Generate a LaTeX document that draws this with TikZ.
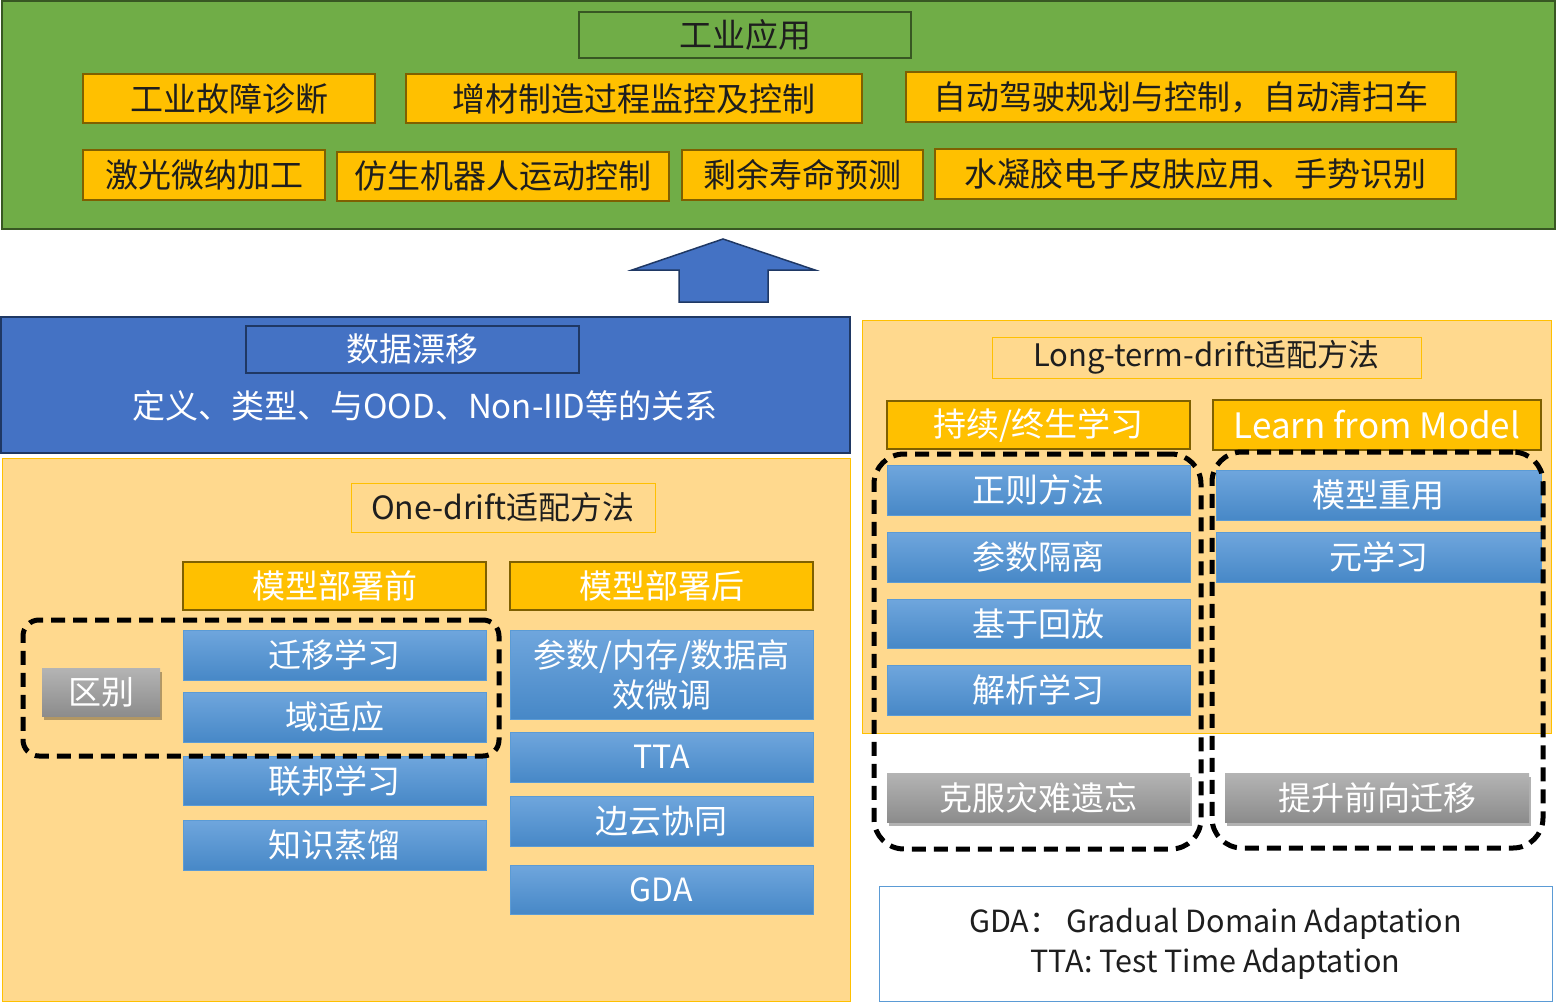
\documentclass[tikz,border=0pt]{standalone}
\usepackage{fontspec}
\setmainfont{Noto Sans CJK SC}
\usetikzlibrary{shadows}
\definecolor{gfill}{HTML}{70AD47}
\definecolor{gline}{HTML}{385723}
\definecolor{ofill}{HTML}{FFC000}
\definecolor{oline}{HTML}{7F6000}
\definecolor{lofill}{HTML}{FFD98E}
\definecolor{bfill}{HTML}{4472C4}
\definecolor{bline}{HTML}{1F3864}
\definecolor{blueT}{HTML}{6FA6DD}
\definecolor{blueB}{HTML}{4788C7}
\definecolor{blueL}{HTML}{5B9BD5}
\definecolor{grayT}{HTML}{B4B4B4}
\definecolor{grayB}{HTML}{8C8C8C}
\definecolor{tdark}{HTML}{1E1E1E}
\begin{document}
\begin{tikzpicture}[x=1pt,y=-1pt,
  base/.style={inner sep=0pt, align=center, font=\fontsize{33}{40}\selectfont},
  appbox/.style={base, fill=ofill, draw=oline, line width=2pt, text=tdark},
  hdrbox/.style={base, fill=ofill, draw=oline, line width=2pt, text=white},
  bluebox/.style={base, top color=blueT, bottom color=blueB, draw=blueL, line width=1pt, text=white},
  graybox/.style={base, top color=grayT, bottom color=grayB, draw=none, text=white,
     drop shadow={shadow xshift=2pt, shadow yshift=-4pt, opacity=0.3, fill=black}},
  panel/.style={fill=lofill, draw=ofill, line width=1pt, inner sep=0pt},
  titlebox/.style={base, fill=lofill, draw=ofill, line width=1pt, text=tdark},
  dashbox/.style={draw=black, line width=5pt, dash pattern=on 14pt off 8pt, inner sep=0pt}
]
\useasboundingbox (0,0) rectangle (1556,1004);
\fill[white] (0,0) rectangle (1556,1004);

% top green panel
\node[fill=gfill, draw=gline, line width=2pt, inner sep=0pt, minimum width=1553pt, minimum height=228pt] (ind) at (778,115) {};
\node[base, draw=gline, line width=2pt, text=tdark, minimum width=332pt, minimum height=46pt] (appl) at (745,35) {工业应用};
\node[appbox, minimum width=292pt, minimum height=49pt] (f1) at (229,98.5) {工业故障诊断};
\node[appbox, minimum width=456pt, minimum height=49pt] (f2) at (634,98.5) {增材制造过程监控及控制};
\node[appbox, minimum width=550pt, minimum height=50pt] (f3) at (1181,97) {自动驾驶规划与控制，自动清扫车};
\node[appbox, minimum width=242pt, minimum height=50pt] (f4) at (204,175) {激光微纳加工};
\node[appbox, minimum width=332pt, minimum height=49pt] (f5) at (503,176.5) {仿生机器人运动控制};
\node[appbox, minimum width=241pt, minimum height=50pt] (f6) at (802.5,175) {剩余寿命预测};
\node[appbox, minimum width=521pt, minimum height=50pt] (f7) at (1195.5,174) {水凝胶电子皮肤应用、手势识别};

% block arrow
\draw[fill=bfill, draw=bline, line width=1.5pt, line join=miter]
  (723,239) -- (815,270) -- (768,270) -- (768,302) -- (679,302) -- (679,270) -- (632,270) -- cycle;

% data drift panel
\node[fill=bfill, draw=bline, line width=2pt, inner sep=0pt, minimum width=849pt, minimum height=136pt] (drift) at (425.5,385) {};
\node[base, draw=bline, line width=2pt, text=white, minimum width=333pt, minimum height=47pt] (drifttitle) at (412.5,349.5) {数据漂移};
\node[base, text=white] (driftsub) at (425,406) {定义、类型、与OOD、Non-IID等的关系};

% left panel
\node[panel, minimum width=848pt, minimum height=543pt] (lpanel) at (426,729.5) {};
\node[titlebox, font=\fontsize{32}{40}\selectfont, minimum width=304pt, minimum height=49pt] (one) at (503,507.5) {One-drift适配方法};
\node[hdrbox, minimum width=303pt, minimum height=48pt] (pre) at (334.5,586) {模型部署前};
\node[hdrbox, minimum width=303pt, minimum height=48pt] (post) at (661.5,586) {模型部署后};
\node[bluebox, minimum width=303pt, minimum height=50pt] (tl) at (334.5,655) {迁移学习};
\node[bluebox, minimum width=303pt, minimum height=50pt] (da) at (334.5,717) {域适应};
\node[bluebox, minimum width=303pt, minimum height=49pt] (fl) at (334.5,780.5) {联邦学习};
\node[bluebox, minimum width=303pt, minimum height=50pt] (kd) at (334.5,845) {知识蒸馏};
\node[bluebox, minimum width=303pt, minimum height=89pt] (peft) at (661.5,674.5) {参数/内存/数据高\\效微调};
\node[bluebox, font=\fontsize{32}{40}\selectfont, minimum width=303pt, minimum height=50pt] (tta) at (661.5,757) {TTA};
\node[bluebox, minimum width=303pt, minimum height=50pt] (ec) at (661.5,821) {边云协同};
\node[bluebox, font=\fontsize{32}{40}\selectfont, minimum width=303pt, minimum height=49pt] (gda) at (661.5,889.5) {GDA};
\node[graybox, minimum width=118pt, minimum height=48pt] (diff) at (101,692) {区别};

% right panel
\node[panel, minimum width=689pt, minimum height=413pt] (rpanel) at (1206.5,526.5) {};
\node[titlebox, font=\fontsize{31}{38}\selectfont, minimum width=429pt, minimum height=41pt] (long) at (1206.5,357.5) {Long-term-drift适配方法};
\node[hdrbox, minimum width=303pt, minimum height=48pt] (cl) at (1038.5,425) {持续/终生学习};
\node[hdrbox, font=\fontsize{35}{40}\selectfont, minimum width=328pt, minimum height=50pt] (lfm) at (1377,425) {Learn from Model};
\node[bluebox, minimum width=303pt, minimum height=50pt] (reg) at (1038.5,490) {正则方法};
\node[bluebox, minimum width=303pt, minimum height=50pt] (iso) at (1038.5,557) {参数隔离};
\node[bluebox, minimum width=303pt, minimum height=49pt] (rep) at (1038.5,623.5) {基于回放};
\node[bluebox, minimum width=303pt, minimum height=50pt] (ana) at (1038.5,690) {解析学习};
\node[bluebox, minimum width=325pt, minimum height=50pt] (reuse) at (1378.5,495) {模型重用};
\node[bluebox, minimum width=325pt, minimum height=50pt] (meta) at (1378.5,557) {元学习};
\node[graybox, minimum width=303pt, minimum height=49pt] (forget) at (1038.5,797.5) {克服灾难遗忘};
\node[graybox, minimum width=304pt, minimum height=49pt] (fwd) at (1377,797.5) {提升前向迁移};

% legend
\node[base, font=\fontsize{30.5}{40}\selectfont, fill=white, draw=blueL, line width=1pt, text=tdark, minimum width=673pt, minimum height=115pt] (legend) at (1215.5,943.5) {GDA：\ Gradual Domain Adaptation\\TTA: Test Time Adaptation};

% dashed groups
\node[dashbox, rounded corners=16pt, minimum width=476pt, minimum height=136pt] (grpA) at (261,688) {};
\node[dashbox, rounded corners=30pt, minimum width=327pt, minimum height=395pt] (grpB) at (1037.5,651.5) {};
\node[dashbox, rounded corners=30pt, minimum width=331pt, minimum height=396pt] (grpC) at (1377.5,650) {};
\end{tikzpicture}
\end{document}
